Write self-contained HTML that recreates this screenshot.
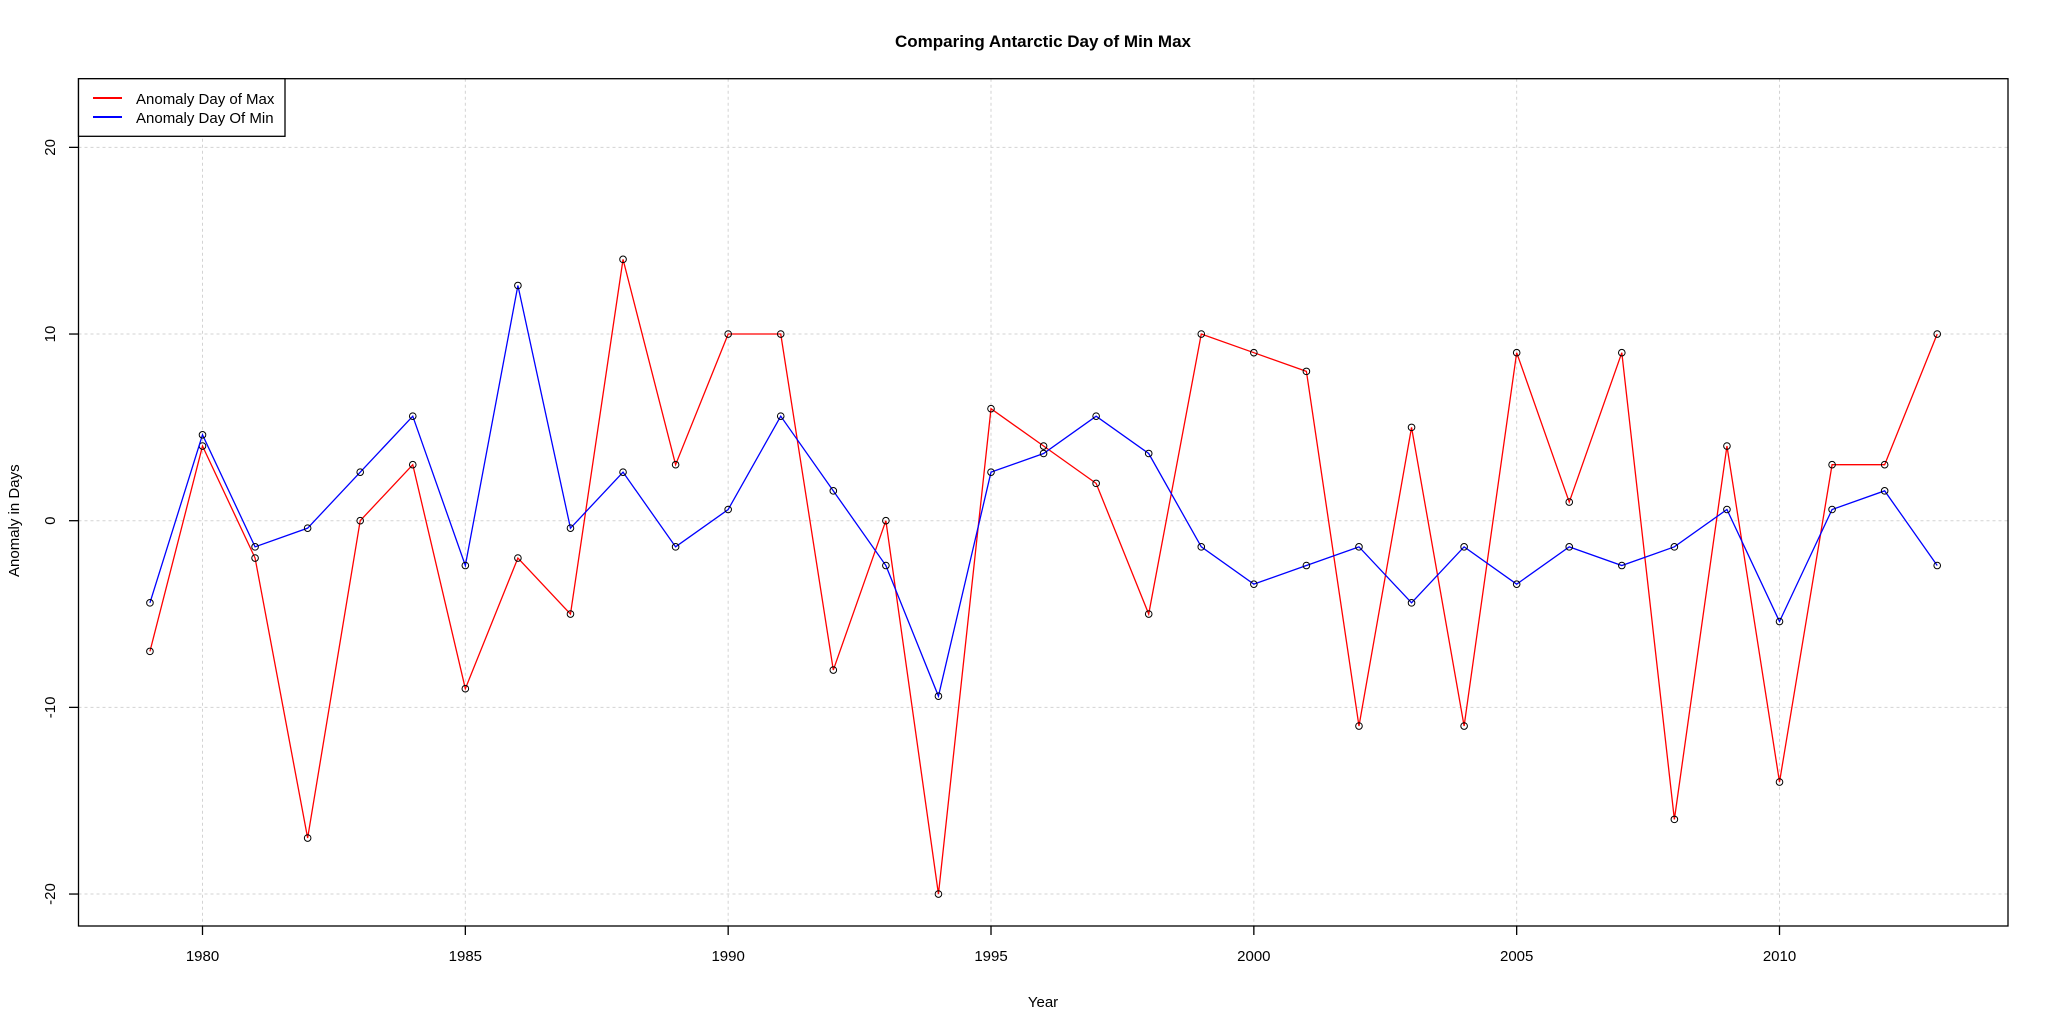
<!DOCTYPE html>
<html><head><meta charset="utf-8"><style>body{margin:0;background:#fff}svg{display:block;font-family:"Liberation Sans",sans-serif}</style></head>
<body>
<svg id="chart" width="2049" height="1024" viewBox="0 0 2049 1024" xmlns="http://www.w3.org/2000/svg">
<text x="1043" y="47" text-anchor="middle" font-size="17" font-weight="bold">Comparing Antarctic Day of Min Max</text>
<text x="1043" y="1007" text-anchor="middle" font-size="15">Year</text>
<text transform="translate(19,520.7) rotate(-90)" text-anchor="middle" font-size="15">Anomaly in Days</text>
<g id="grid"></g><g id="axes"></g><g id="series"></g>
<rect x="78.5" y="78.7" width="1929.5" height="847.3" fill="none" stroke="#000" stroke-width="1.3"/>
<g>
<rect x="78.5" y="78.7" width="206.5" height="57.6" fill="#fff" stroke="#000" stroke-width="1.3"/>
<line x1="93" y1="98" x2="122" y2="98" stroke="#f00" stroke-width="2"/>
<text x="136" y="104" font-size="15">Anomaly Day of Max</text>
<line x1="93" y1="117" x2="122" y2="117" stroke="#00f" stroke-width="2"/>
<text x="136" y="123" font-size="15">Anomaly Day Of Min</text>
</g>
</svg>
<script>
const years=[1979,1980,1981,1982,1983,1984,1985,1986,1987,1988,1989,1990,1991,1992,1993,1994,1995,1996,1997,1998,1999,2000,2001,2002,2003,2004,2005,2006,2007,2008,2009,2010,2011,2012,2013];
const maxAnom=[-7,4,-2,-17,0,3,-9,-2,-5,14,3,10,10,-8,0,-20,6,4,2,-5,10,9,8,-11,5,-11,9,1,9,-16,4,-14,3,3,10];
const minAnom=[-4.4,4.6,-1.4,-0.4,2.6,5.6,-2.4,12.6,-0.4,2.6,-1.4,0.6,5.6,1.6,-2.4,-9.4,2.6,3.6,5.6,3.6,-1.4,-3.4,-2.4,-1.4,-4.4,-1.4,-3.4,-1.4,-2.4,-1.4,0.6,-5.4,0.6,1.6,-2.4];
const xTicks=[1980,1985,1990,1995,2000,2005,2010];
const yTicks=[-20,-10,0,10,20];
const NS='http://www.w3.org/2000/svg';
const X=v=>202.5+(v-1980)*52.567;
const Y=v=>520.7-v*18.667;
function mk(tag,attrs,parent){const e=document.createElementNS(NS,tag);for(const k in attrs)e.setAttribute(k,attrs[k]);parent.appendChild(e);return e;}
const grid=document.getElementById('grid'),axes=document.getElementById('axes'),ser=document.getElementById('series');
xTicks.forEach(t=>{
 const g=mk('line',{x1:X(t),x2:X(t),y1:78.7,y2:926,stroke:'#d3d3d3','stroke-dasharray':'3,3'},grid);
 
 
 const tk=mk('line',{x1:X(t),x2:X(t),y1:926,y2:935,stroke:'#000','stroke-width':1.3},axes);
 
 
 const tx=mk('text',{x:X(t),y:961,'text-anchor':'middle','font-size':15},axes);
 tx.textContent=t;
 
 
});
yTicks.forEach(t=>{
 const g=mk('line',{x1:78.5,x2:2008,y1:Y(t),y2:Y(t),stroke:'#d3d3d3','stroke-dasharray':'3,3'},grid);
 
 
 const tk=mk('line',{x1:69,x2:78.5,y1:Y(t),y2:Y(t),stroke:'#000','stroke-width':1.3},axes);
 
 
 const tx=mk('text',{transform:`translate(55,${Y(t)}) rotate(-90)`,'text-anchor':'middle','font-size':15},axes);
 tx.textContent=t;
 
 
});
function series(vals,color,name){
 const p=mk('polyline',{points:vals.map((v,i)=>X(years[i])+','+Y(v)).join(' '),fill:'none',stroke:color,'stroke-width':1.3},ser);
 
 
 vals.forEach((v,i)=>{
  const c=mk('circle',{cx:X(years[i]),cy:Y(v),r:3.3,fill:'none',stroke:'#000','stroke-width':1},ser);
  
  
 });
}
series(maxAnom,'#f00','max');
series(minAnom,'#00f','min');
</script>
</body></html>
